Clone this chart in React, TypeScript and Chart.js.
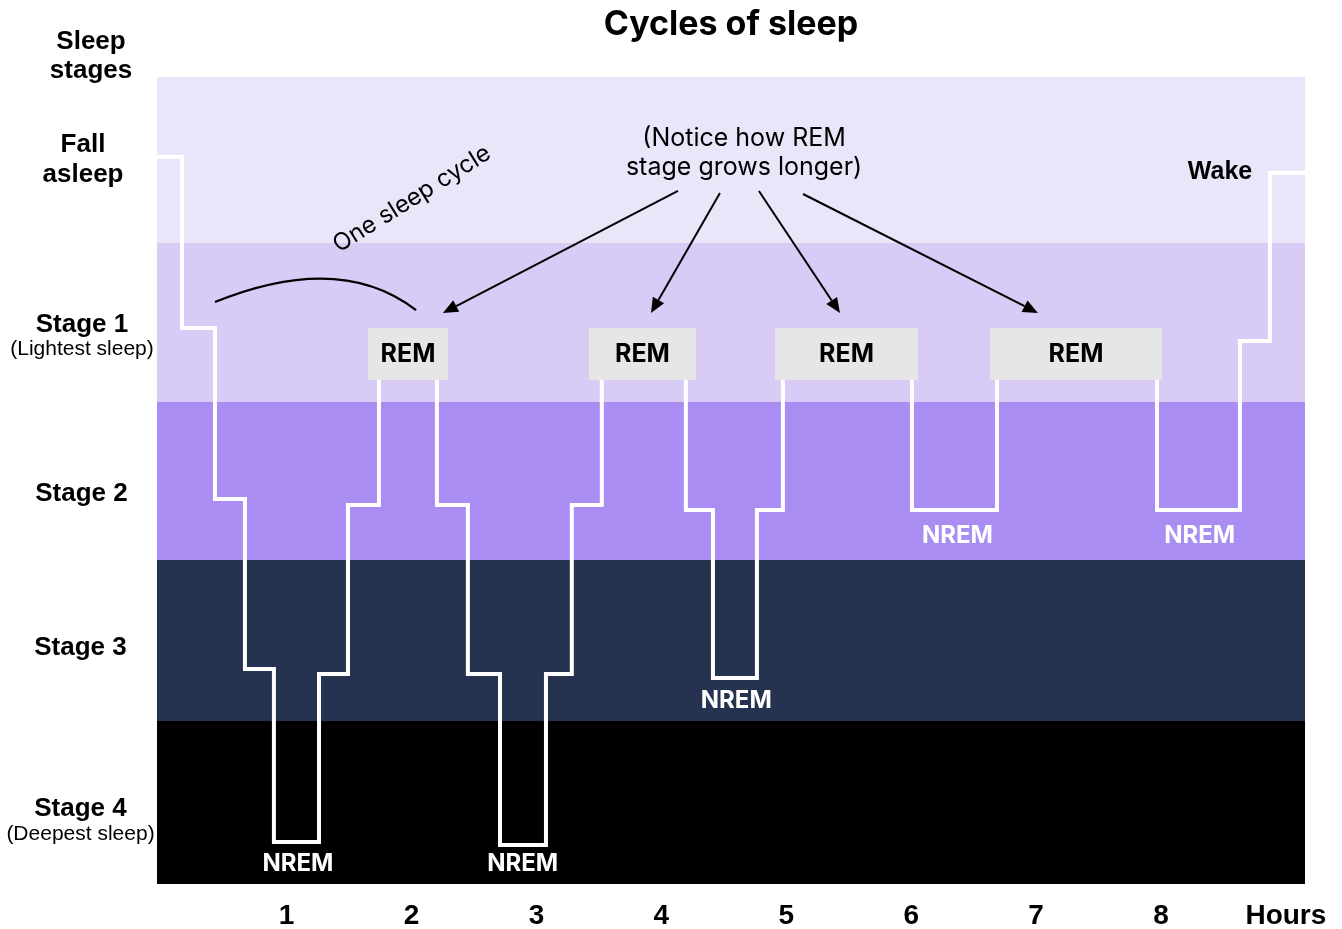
import React, { useEffect, useRef } from "react";
import { Chart, registerables } from "chart.js";

Chart.register(...registerables);

// ---- data ----
const hourTicks = [1, 2, 3, 4, 5, 6, 7, 8, 9];
const hourLabels = ["1", "2", "3", "4", "5", "6", "7", "8", "Hours"];
const hourMin = -0.038;
const hourMax = 9.153;

// stepped hypnogram: hour at which the level changes, and the new level
const stepHours = [
  -0.038, 0.162, 0.426, 0.666, 0.898, 1.259, 1.491, 1.739, 2.203, 2.451, 2.708,
  3.076, 3.283, 3.523, 4.196, 4.413, 4.765, 4.973, 6.006, 6.687, 7.968, 8.632,
  8.872, 9.153,
];
const stepLevels = [
  4.504, 3.445, 2.385, 1.332, 0.26, 1.301, 2.348, 3.28, 2.348, 1.301, 0.242,
  1.301, 2.348, 3.28, 2.317, 1.276, 2.317, 3.28, 2.317, 3.28, 2.317, 3.364,
  4.405, 4.405,
];

// stage bands (bottom -> top)
const bandEdges = [0, 1.01, 2.007, 2.986, 3.971, 5];
const bandColors = ["#000000", "#263350", "#A98DF2", "#D8CBF5", "#EAE5F9"];

// REM boxes
const remStart = [1.651, 3.42, 4.91, 6.631];
const remEnd = [2.292, 4.277, 6.055, 8.008];
const remTop = 3.445;
const remBottom = 3.123;

// NREM labels
const nremX = [1.09, 2.89, 4.6, 6.37, 8.31];
const nremY = [0.124, 0.124, 1.134, 2.156, 2.156];

// left stage labels
const stageTitles = [["Sleep", "stages"], ["Fall", "asleep"], ["Stage 1"], ["Stage 2"], ["Stage 3"], ["Stage 4"]];
const stageTitleY = [[5.217, 5.037], [4.579, 4.393], [3.463], [2.416], [1.462], [0.465]];
const stageTitleOffset = [66, 74, 75, 75.5, 76.5, 76.5];
const stageNotes = ["", "", "(Lightest sleep)", "", "", "(Deepest sleep)"];
const stageNoteY = [0, 0, 3.315, 0, 0, 0.31];

// annotations
const wakeLabel = { text: "Wake", x: 8.473, y: 4.411 };
const noticeLines = ["(Notice how REM", "stage grows longer)"];
const noticeX = 4.662;
const noticeY = [4.622, 4.442];
const arrowFromX = [4.133, 4.469, 4.781, 5.134];
const arrowFromY = [4.294, 4.281, 4.294, 4.275];
const arrowToX = [2.251, 3.917, 5.43, 7.015];
const arrowToY = [3.538, 3.538, 3.538, 3.538];
const cycleArc = { x0: 0.426, y0: 3.606, cx: 1.427, cy: 3.92, x1: 2.036, y1: 3.556 };
const cycleText = { text: "One sleep cycle", x: 2.003, y: 4.244, angle: -32 };

const boldSans = "'Liberation Sans', Arial, sans-serif";
const inter = "Inter, 'Noto Sans', sans-serif";

const decorPlugin = {
  id: "sleepDecor",
  beforeDatasetsDraw(chart: any) {
    const { ctx, chartArea: a, scales } = chart;
    const y = scales.y;
    ctx.save();
    for (let i = 0; i < bandColors.length; i++) {
      const top = Math.round(y.getPixelForValue(bandEdges[i + 1]));
      const bot = Math.round(y.getPixelForValue(bandEdges[i]));
      ctx.fillStyle = bandColors[i];
      ctx.fillRect(a.left, top, a.right - a.left, bot - top);
    }
    ctx.restore();
  },
  afterDatasetsDraw(chart: any) {
    const { ctx, chartArea: a, scales } = chart;
    const x = scales.x;
    const y = scales.y;
    ctx.save();

    // REM boxes
    for (let i = 0; i < remStart.length; i++) {
      const l = x.getPixelForValue(remStart[i]);
      const r = x.getPixelForValue(remEnd[i]);
      const t = y.getPixelForValue(remTop);
      const b = y.getPixelForValue(remBottom);
      ctx.fillStyle = "#E6E6E6";
      ctx.fillRect(l, t, r - l, b - t);
      ctx.fillStyle = "#000";
      ctx.font = `bold 25px ${inter}`;
      ctx.textAlign = "center";
      ctx.textBaseline = "middle";
      ctx.fillText("REM", (l + r) / 2, (t + b) / 2 + 1);
    }

    // NREM labels
    ctx.fillStyle = "#FFFFFF";
    ctx.font = `bold 24px ${inter}`;
    ctx.textAlign = "center";
    ctx.textBaseline = "middle";
    for (let i = 0; i < nremX.length; i++) {
      ctx.fillText("NREM", x.getPixelForValue(nremX[i]), y.getPixelForValue(nremY[i]));
    }

    // Wake label
    ctx.fillStyle = "#000";
    ctx.font = `bold 25px ${boldSans}`;
    ctx.fillText(wakeLabel.text, x.getPixelForValue(wakeLabel.x), y.getPixelForValue(wakeLabel.y));

    // Notice text
    ctx.font = `25px ${inter}`;
    for (let i = 0; i < noticeLines.length; i++) {
      ctx.fillText(noticeLines[i], x.getPixelForValue(noticeX), y.getPixelForValue(noticeY[i]));
    }

    // arrows
    ctx.strokeStyle = "#000";
    ctx.fillStyle = "#000";
    ctx.lineWidth = 2;
    for (let i = 0; i < arrowFromX.length; i++) {
      const sx = x.getPixelForValue(arrowFromX[i]);
      const sy = y.getPixelForValue(arrowFromY[i]);
      const ex = x.getPixelForValue(arrowToX[i]);
      const ey = y.getPixelForValue(arrowToY[i]);
      const ang = Math.atan2(ey - sy, ex - sx);
      const head = 15;
      const half = 6.5;
      const bx = ex - head * Math.cos(ang);
      const by = ey - head * Math.sin(ang);
      ctx.beginPath();
      ctx.moveTo(sx, sy);
      ctx.lineTo(bx, by);
      ctx.stroke();
      ctx.beginPath();
      ctx.moveTo(ex, ey);
      ctx.lineTo(bx + half * Math.sin(ang), by - half * Math.cos(ang));
      ctx.lineTo(bx - half * Math.sin(ang), by + half * Math.cos(ang));
      ctx.closePath();
      ctx.fill();
    }

    // sleep cycle arc
    ctx.beginPath();
    ctx.moveTo(x.getPixelForValue(cycleArc.x0), y.getPixelForValue(cycleArc.y0));
    ctx.quadraticCurveTo(
      x.getPixelForValue(cycleArc.cx),
      y.getPixelForValue(cycleArc.cy),
      x.getPixelForValue(cycleArc.x1),
      y.getPixelForValue(cycleArc.y1)
    );
    ctx.lineWidth = 2.2;
    ctx.stroke();

    // sleep cycle text
    ctx.save();
    ctx.translate(x.getPixelForValue(cycleText.x), y.getPixelForValue(cycleText.y));
    ctx.rotate((cycleText.angle * Math.PI) / 180);
    ctx.font = `24px ${inter}`;
    ctx.fillStyle = "#000";
    ctx.textAlign = "center";
    ctx.textBaseline = "middle";
    ctx.fillText(cycleText.text, 0, 0);
    ctx.restore();

    // left stage labels
    ctx.fillStyle = "#000";
    ctx.textAlign = "center";
    ctx.textBaseline = "middle";
    for (let i = 0; i < stageTitles.length; i++) {
      const cx = a.left - stageTitleOffset[i];
      ctx.font = `bold 26px ${boldSans}`;
      stageTitles[i].forEach((line, j) => {
        ctx.fillText(line, cx, y.getPixelForValue(stageTitleY[i][j]));
      });
      if (stageNotes[i]) {
        ctx.font = `21px ${boldSans}`;
        ctx.fillText(stageNotes[i], cx, y.getPixelForValue(stageNoteY[i]));
      }
    }

    ctx.restore();
  },
};

export default function App() {
  const canvasRef = useRef<HTMLCanvasElement | null>(null);

  useEffect(() => {
    document.body.style.margin = "0";
    document.body.style.overflow = "hidden";
    const canvas = canvasRef.current;
    if (!canvas) return;
    const points = stepHours.map((h, i) => ({ x: h, y: stepLevels[i] }));
    const chart = new Chart(canvas, {
      type: "line",
      data: {
        datasets: [
          {
            label: "Sleep stage",
            data: points,
            stepped: true,
            borderColor: "#FFFFFF",
            borderWidth: 4,
            pointRadius: 0,
            pointHoverRadius: 0,
            fill: false,
            borderJoinStyle: "miter",
            borderCapStyle: "butt",
          },
        ],
      },
      options: {
        responsive: false,
        animation: false,
        events: [],
        layout: { padding: { left: 157, right: 37, top: 0, bottom: -19 } },
        plugins: {
          legend: { display: false },
          tooltip: { enabled: false },
          title: {
            display: true,
            text: "Cycles of sleep",
            fullSize: false,
            color: "#000",
            font: { family: inter, size: 34, weight: "bold", lineHeight: 1.2 },
            padding: { top: 4.5, bottom: 31.7 },
          },
        },
        scales: {
          x: {
            type: "linear",
            min: hourMin,
            max: hourMax,
            grid: { display: false, drawTicks: false },
            border: { display: false },
            afterBuildTicks: (scale: any) => {
              scale.ticks = hourTicks.map((v) => ({ value: v }));
            },
            afterFit: (scale: any) => {
              scale.paddingRight = 0;
              scale.paddingLeft = 0;
            },
            ticks: {
              color: "#000",
              padding: 18,
              maxRotation: 0,
              autoSkip: false,
              font: { family: boldSans, size: 28, weight: "bold", lineHeight: 1 },
              callback: (v: any) => {
                const idx = hourTicks.indexOf(Number(v));
                return idx >= 0 ? hourLabels[idx] : "";
              },
            },
          },
          y: {
            type: "linear",
            display: false,
            min: 0,
            max: 5,
          },
        },
      },
      plugins: [decorPlugin],
    });
    return () => chart.destroy();
  }, []);

  return (
    <div style={{ width: 1342, height: 929 }}>
      <canvas ref={canvasRef} width={1342} height={929} style={{ display: "block" }} />
    </div>
  );
}
